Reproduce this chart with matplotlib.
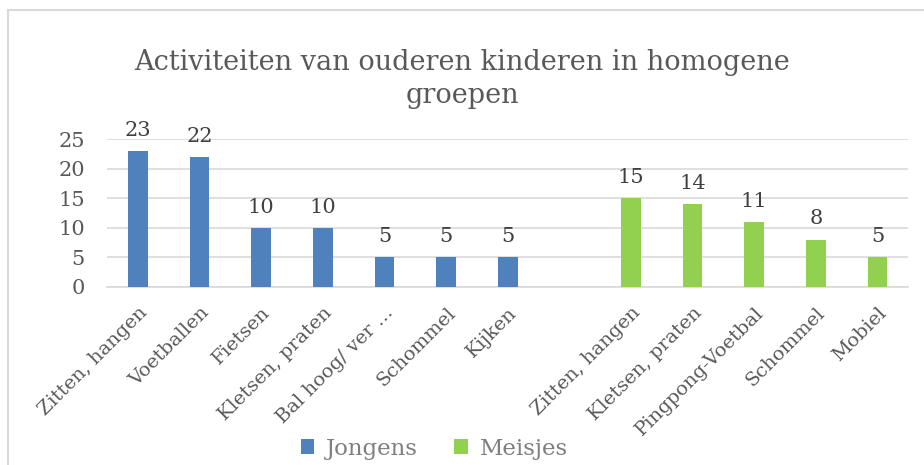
import matplotlib.pyplot as plt
from matplotlib.patches import Rectangle
import numpy as np

#%% Data
jongens_labels = ['Zitten, hangen', 'Voetballen', 'Fietsen', 'Kletsen, praten',
                  'Bal hoog/ ver ...', 'Schommel', 'Kijken']
jongens_values = [23, 22, 10, 10, 5, 5, 5]
meisjes_labels = ['Zitten, hangen', 'Kletsen, praten', 'Pingpong-Voetbal',
                  'Schommel', 'Mobiel']
meisjes_values = [15, 14, 11, 8, 5]

#%% Style
plt.rcParams['font.family'] = ['DejaVu Serif']
blue = '#4F81BD'
green = '#92D050'
grid_c = '#D9D9D9'
txt_c = '#595959'

fig = plt.figure(figsize=(9.24, 4.65), dpi=100)
ax = fig.add_axes([0.116, 0.383, 0.867, 0.318])

# positions: boys, one empty slot, girls
x_j = np.arange(len(jongens_values))
x_m = np.arange(len(meisjes_values)) + len(jongens_values) + 1
bw = 0.32

b1 = ax.bar(x_j, jongens_values, bw, color=blue, label='Jongens', zorder=3)
b2 = ax.bar(x_m, meisjes_values, bw, color=green, label='Meisjes', zorder=3)

for bars in (b1, b2):
    for b in bars:
        ax.annotate(str(int(b.get_height())), (b.get_x() + b.get_width() / 2, b.get_height()),
                    xytext=(0, 8), textcoords='offset points', ha='center', va='bottom',
                    fontsize=15, color='#404040')

ax.set_xlim(-0.5, len(jongens_values) + len(meisjes_values) + 0.5)
ax.set_ylim(0, 25)
ax.set_yticks([0, 5, 10, 15, 20, 25])
ax.yaxis.grid(True, color=grid_c, linewidth=1.2, zorder=0)
ax.set_axisbelow(True)
for s in ['top', 'right', 'left']:
    ax.spines[s].set_visible(False)
ax.spines['bottom'].set_color(grid_c)
ax.spines['bottom'].set_linewidth(1.2)
ax.tick_params(axis='both', length=0, colors=txt_c)
ax.tick_params(axis='y', pad=16, labelsize=15)

ax.set_xticks(list(x_j) + list(x_m))
ax.set_xticklabels(jongens_labels + meisjes_labels, rotation=45, ha='right',
                   va='top', rotation_mode='anchor', fontsize=14, color=txt_c)
ax.tick_params(axis='x', pad=12)

fig.text(0.5, 0.83, 'Activiteiten van ouderen kinderen in homogene\ngroepen',
         ha='center', va='center', fontsize=19.5, color=txt_c, linespacing=1.3)

leg = fig.legend(handles=[b1, b2], loc='center', bbox_to_anchor=(0.47, 0.035), ncol=2,
                 frameon=False, fontsize=16.5, handlelength=0.6, handleheight=0.6,
                 columnspacing=1.6, handletextpad=0.5)
for t in leg.get_texts():
    t.set_color('#7F7F7F')

# outer chart border
fig.patches.append(Rectangle((8 / 924, -0.1), 1.2, 1 - 10 / 465 + 0.1, transform=fig.transFigure,
                             fill=False, edgecolor='#D9D9D9', linewidth=1.5))

fig.savefig('out.png', dpi=100)
